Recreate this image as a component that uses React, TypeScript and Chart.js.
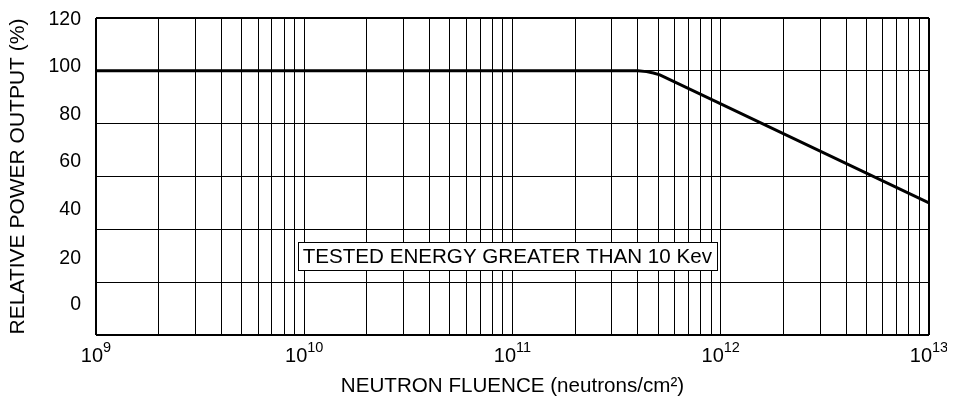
import React, { useEffect, useRef } from "react";
import { Chart, registerables } from "chart.js";

Chart.register(...registerables);

// ---- data ----
const fluence = [1e9, 4.0e11, 4.4e11, 4.75e11, 5.1e11, 1e13];
const powerOutput = [100, 100, 99.7, 99.2, 98.5, 50];

const yMin = 0;
const yMax = 120;
const yStep = 20;
const yLabelTexts = ["0", "20", "40", "60", "80", "100", "120"];
const yLabelValues = [11.4, 29.1, 47.3, 65.5, 83.3, 101.5, 119.2];

const xDecadeExponents = [9, 10, 11, 12, 13];
const xTitle = "NEUTRON FLUENCE (neutrons/cm\u00B2)";
const yTitle = "RELATIVE POWER OUTPUT (%)";
const noteText = "TESTED ENERGY GREATER THAN 10 Kev";
const noteAnchorX = 9.3e9;
const noteAnchorY = 35.2;

const FONT = "'Liberation Sans', Arial, Helvetica, sans-serif";

export default function App() {
  const ref = useRef<HTMLCanvasElement | null>(null);

  useEffect(() => {
    const canvas = ref.current;
    if (!canvas) return;

    const xLabelsPlugin = {
      id: "xLabels",
      afterDraw(chart: any) {
        const ctx = chart.ctx;
        const xs = chart.scales.x;
        const yBase = chart.chartArea.bottom + 21;
        ctx.save();
        ctx.fillStyle = "#000";
        ctx.textBaseline = "middle";
        ctx.textAlign = "left";
        for (const e of xDecadeExponents) {
          const px = xs.getPixelForValue(Math.pow(10, e));
          ctx.font = `20px ${FONT}`;
          const wBase = ctx.measureText("10").width;
          ctx.font = `14.5px ${FONT}`;
          const wExp = ctx.measureText(String(e)).width;
          const start = px - (wBase + wExp) / 2;
          ctx.font = `20px ${FONT}`;
          ctx.fillText("10", start, yBase);
          ctx.font = `14.5px ${FONT}`;
          ctx.fillText(String(e), start + wBase, yBase - 8);
        }
        ctx.restore();
      },
    };

    const notePlugin = {
      id: "note",
      afterDatasetsDraw(chart: any) {
        const ctx = chart.ctx;
        const left = chart.scales.x.getPixelForValue(noteAnchorX);
        const top = chart.scales.y.getPixelForValue(noteAnchorY);
        ctx.save();
        ctx.font = `20.6px ${FONT}`;
        const w = ctx.measureText(noteText).width;
        const padX = 5;
        const h = 28;
        ctx.fillStyle = "#fff";
        ctx.fillRect(left, top, w + padX * 2, h);
        ctx.strokeStyle = "#000";
        ctx.lineWidth = 1;
        ctx.strokeRect(Math.round(left) + 0.5, Math.round(top) + 0.5, Math.round(w + padX * 2), h);
        ctx.fillStyle = "#000";
        ctx.textBaseline = "middle";
        ctx.textAlign = "left";
        ctx.fillText(noteText, left + padX, top + h / 2 + 1);
        ctx.restore();
      },
    };

    const chart = new Chart(canvas, {
      type: "line",
      data: {
        datasets: [
          {
            data: fluence.map((f, i) => ({ x: f, y: powerOutput[i] })),
            borderColor: "#000",
            borderWidth: 3,
            pointRadius: 0,
            tension: 0,
            fill: false,
          },
        ],
      },
      options: {
        animation: false,
        responsive: false,
        devicePixelRatio: 1,
        layout: { padding: { top: 10, right: 26, bottom: 0, left: 0 } },
        plugins: {
          legend: { display: false },
          tooltip: { enabled: false },
        },
        scales: {
          x: {
            type: "logarithmic",
            min: Math.pow(10, xDecadeExponents[0]),
            max: Math.pow(10, xDecadeExponents[xDecadeExponents.length - 1]),
            afterBuildTicks: (axis: any) => {
              const ticks: any[] = [];
              for (let i = 0; i < xDecadeExponents.length - 1; i++) {
                for (let s = 1; s <= 9; s++) {
                  ticks.push({ value: s * Math.pow(10, xDecadeExponents[i]) });
                }
              }
              ticks.push({ value: Math.pow(10, xDecadeExponents[xDecadeExponents.length - 1]) });
              axis.ticks = ticks;
            },
            afterFit: (axis: any) => {
              axis.height = 65;
              axis.paddingLeft = 0;
              axis.paddingRight = 0;
            },
            grid: {
              color: "#000",
              lineWidth: (c: any) =>
                c.index === 0 || c.index === 36 ? 2 : 1,
              drawTicks: false,
            },
            border: { display: false },
            ticks: { display: false },
            title: {
              display: true,
              text: xTitle,
              color: "#000",
              font: { family: FONT, size: 20.6 },
              padding: { top: 0, bottom: 1 },
            },
          },
          y: {
            type: "linear",
            position: "left",
            min: yMin,
            max: yMax,
            ticks: { display: false, stepSize: yStep },
            grid: {
              color: "#000",
              lineWidth: (c: any) =>
                c.tick && (c.tick.value === yMin || c.tick.value === yMax) ? 2 : 1,
              drawTicks: false,
            },
            border: { display: false },
            afterFit: (axis: any) => {
              axis.width = 0;
              axis.paddingTop = 0;
              axis.paddingBottom = 0;
            },
          },
          yl: {
            type: "linear",
            position: "left",
            min: yMin,
            max: yMax,
            grid: { display: false, drawTicks: false },
            border: { display: false },
            afterBuildTicks: (axis: any) => {
              axis.ticks = yLabelValues.map((v) => ({ value: v }));
            },
            ticks: {
              padding: 15,
              color: "#000",
              font: { family: FONT, size: 19.5 },
              autoSkip: false,
              callback: (_v: any, i: number) => yLabelTexts[i],
            },
            title: {
              display: true,
              text: yTitle,
              color: "#000",
              font: { family: FONT, size: 21, lineHeight: 1 },
              padding: { top: 0, bottom: 0 },
            },
            afterFit: (axis: any) => {
              axis.width = 88;
              axis.paddingTop = 0;
              axis.paddingBottom = 0;
            },
          },
        },
      },
      plugins: [xLabelsPlugin, notePlugin],
    } as any);

    return () => chart.destroy();
  }, []);

  return (
    <div style={{ width: 947, height: 392 }}>
      <canvas ref={ref} width={947} height={392} style={{ display: "block", width: 947, height: 392 }} />
    </div>
  );
}
